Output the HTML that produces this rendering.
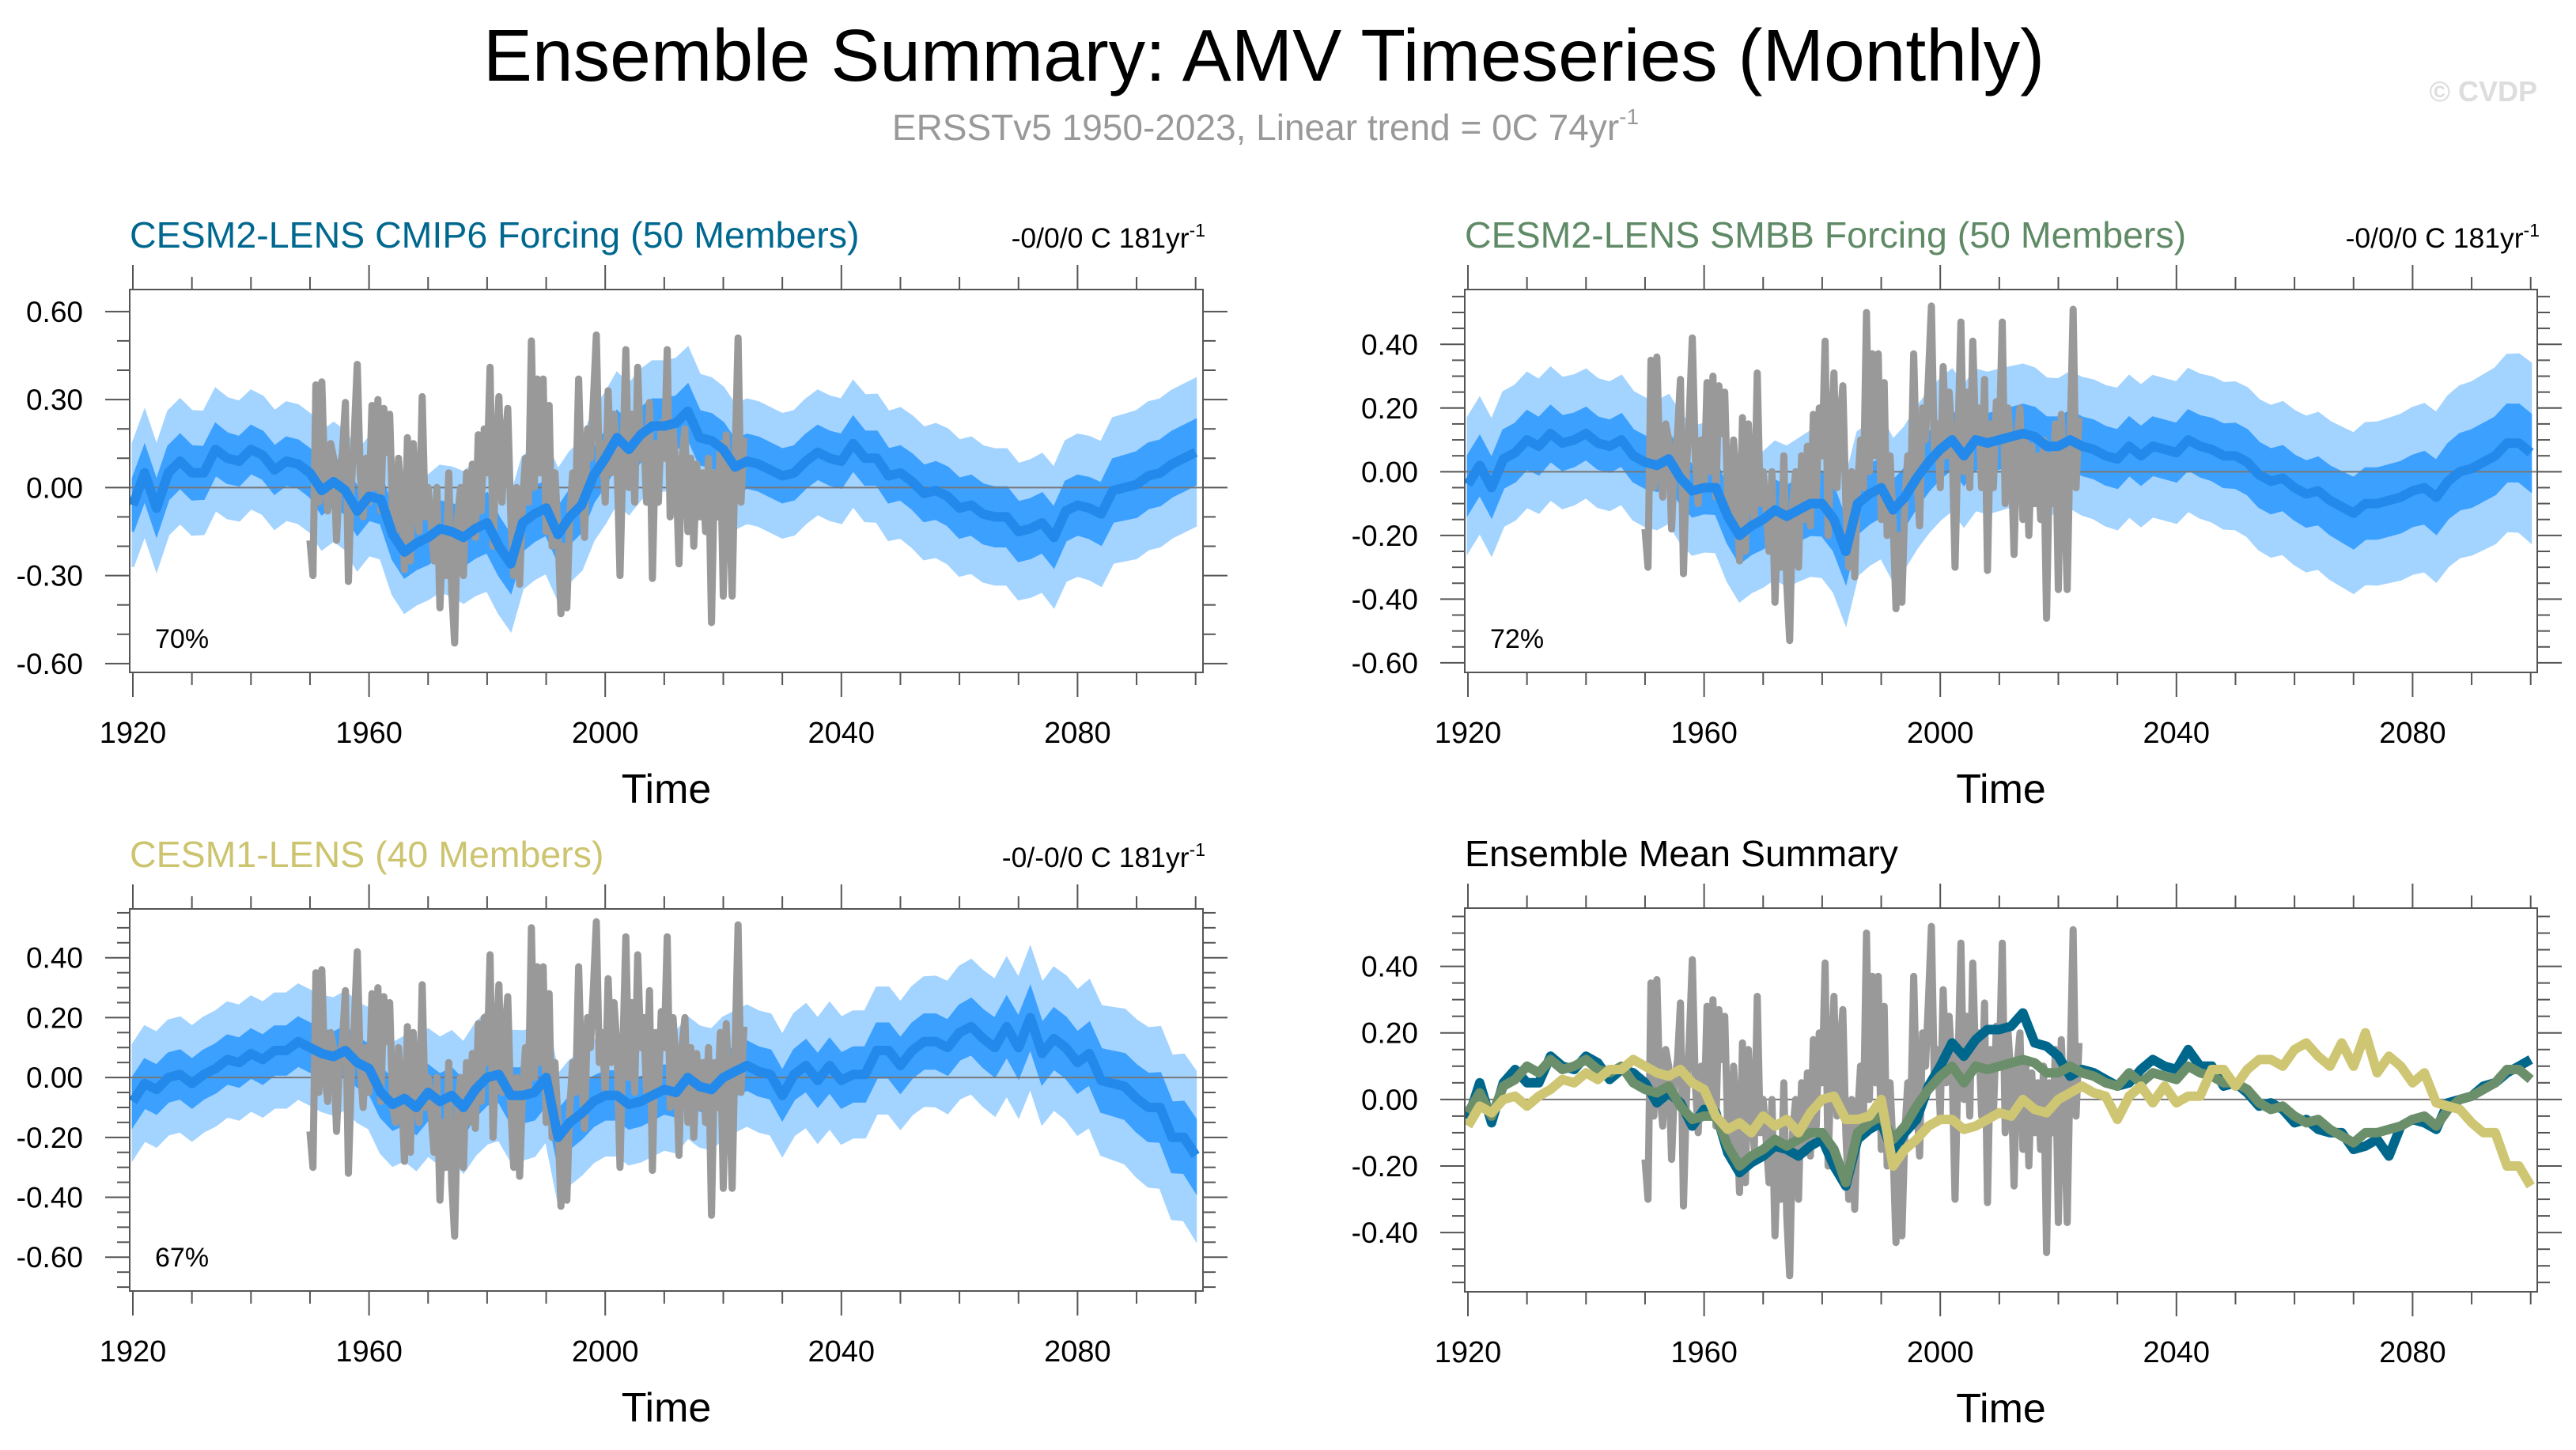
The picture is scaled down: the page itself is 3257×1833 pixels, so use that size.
<!DOCTYPE html>
<html><head><meta charset="utf-8"><title>AMV Timeseries</title>
<style>html,body{margin:0;padding:0;background:#fff;}svg{display:block;font-family:"Liberation Sans",Arial,sans-serif;}</style>
</head><body>
<svg id="fig" xmlns="http://www.w3.org/2000/svg" width="3257" height="1833" viewBox="0 0 3257 1833">
<rect width="3257" height="1833" fill="#fff"/>
<text x="1598" y="102" font-size="93" text-anchor="middle" fill="#000">Ensemble Summary: AMV Timeseries (Monthly)</text>
<text x="1600" y="177" font-size="46" text-anchor="middle" fill="#999">ERSSTv5 1950-2023, Linear trend = 0C 74yr<tspan font-size="28" dy="-20">-1</tspan></text>
<text x="3208" y="128" font-size="36" font-weight="bold" text-anchor="end" fill="#ddd">© CVDP</text>
</svg>
<script>
// ---- data (2-year steps 1920..2100) ----
const meanYears0 = 1920;
const meanStep = 2;
const cmip6Mean = [-0.06,0.05,-0.07,0.05,0.09,0.05,0.05,0.13,0.10,0.09,
0.13,0.11,0.06,0.09,0.08,0.05,-0.01,0.02,-0.01,-0.08,
-0.03,-0.04,-0.16,-0.22,-0.19,-0.17,-0.14,-0.15,-0.17,-0.14,
-0.12,-0.20,-0.26,-0.12,-0.09,-0.07,-0.16,-0.10,-0.06,0.04,
0.10,0.17,0.13,0.18,0.21,0.21,0.22,0.26,0.17,0.16,
0.13,
0.07,0.09,0.08,0.06,0.04,0.05,0.09,0.12,0.10,
0.09,0.15,0.10,0.10,0.04,0.05,0.02,-0.02,-0.01,-0.03,
-0.07,-0.06,-0.09,-0.10,-0.10,-0.15,-0.14,-0.12,-0.17,-0.08,
-0.06,-0.07,-0.09,-0.01,0.00,0.01,0.04,0.05,0.08,0.10,
0.12];
const smbbMean = [-0.04,0.02,-0.05,0.04,0.06,0.10,0.08,0.12,0.09,0.10,
0.12,0.09,0.08,0.10,0.05,0.03,0.02,0.04,-0.02,-0.06,
-0.05,-0.05,-0.14,-0.20,-0.17,-0.15,-0.12,-0.14,-0.12,-0.10,
-0.10,-0.15,-0.25,-0.10,-0.07,-0.05,-0.12,-0.08,-0.02,0.03,
0.07,0.10,0.05,0.10,0.09,0.10,0.11,0.12,0.11,0.08,
0.08,
0.10,0.08,0.07,0.05,0.04,0.08,0.05,0.08,0.07,
0.06,0.10,0.08,0.07,0.05,0.05,0.03,-0.01,-0.03,-0.02,
-0.05,-0.07,-0.06,-0.09,-0.11,-0.13,-0.10,-0.10,-0.09,-0.08,
-0.06,-0.05,-0.08,-0.03,0.00,0.01,0.03,0.05,0.09,0.09,
0.06];
const cesm1Mean = [-0.08,-0.02,-0.04,0.00,0.01,-0.02,0.01,0.03,0.06,0.05,
0.08,0.06,0.09,0.09,0.12,0.10,0.08,0.07,0.09,0.05,
0.03,-0.05,-0.09,-0.07,-0.10,-0.05,-0.08,-0.06,-0.10,-0.04,
0.00,0.01,-0.06,-0.06,-0.05,0.00,-0.20,-0.15,-0.12,-0.08,
-0.06,-0.06,-0.09,-0.08,-0.06,-0.04,-0.05,0.00,-0.03,-0.04,
0.00,
0.02,0.04,0.02,0.01,-0.06,0.01,0.04,-0.01,0.04,
-0.01,0.01,0.01,0.09,0.09,0.04,0.09,0.12,0.12,0.10,
0.15,0.17,0.13,0.10,0.17,0.10,0.20,0.08,0.13,0.10,
0.05,0.08,-0.01,-0.02,-0.03,-0.07,-0.10,-0.10,-0.20,-0.20,
-0.26];
// band half-widths per decade 1920..2100
const bandYears0 = 1920;
const bandStep = 10;
const cmip6Outer = [0.21,0.21,0.20,0.20,0.20,0.21,0.23,0.22,0.22,0.22,0.21,0.21,0.21,0.22,0.23,0.23,0.24,0.25,0.25];
const cmip6Inner = [0.09,0.09,0.08,0.08,0.08,0.09,0.10,0.09,0.09,0.09,0.09,0.09,0.09,0.09,0.10,0.10,0.10,0.11,0.11];
const smbbOuter = [0.21,0.21,0.20,0.20,0.20,0.21,0.23,0.22,0.22,0.22,0.21,0.22,0.22,0.23,0.24,0.25,0.26,0.27,0.28];
const smbbInner = [0.09,0.09,0.08,0.08,0.08,0.09,0.10,0.09,0.09,0.09,0.09,0.09,0.09,0.10,0.10,0.11,0.11,0.12,0.12];
const cesm1Outer = [0.19,0.19,0.19,0.19,0.20,0.21,0.22,0.21,0.20,0.20,0.20,0.20,0.21,0.21,0.22,0.23,0.24,0.26,0.28];
const cesm1Inner = [0.08,0.08,0.08,0.08,0.08,0.09,0.09,0.09,0.08,0.08,0.08,0.08,0.09,0.09,0.09,0.10,0.10,0.11,0.12];
// ERSSTv5 observations, half-year steps from 1950.0
const obsYear0 = 1950;
const obsStep = 0.5;
const obsValues = [-0.18,-0.30,0.35,-0.05,0.36,0.02,-0.08,0.15,0.10,-0.18,
0.05,0.12,0.29,-0.32,0.00,0.18,0.42,0.05,-0.10,0.10,
-0.05,0.28,0.00,0.30,-0.08,0.27,0.12,0.25,-0.10,-0.15,
0.10,-0.05,-0.28,0.17,-0.25,0.15,-0.05,-0.15,0.31,-0.10,
0.00,-0.12,-0.25,0.00,-0.41,-0.15,-0.30,0.05,-0.35,-0.53,
-0.10,0.00,-0.30,0.05,-0.15,0.08,-0.17,0.18,-0.08,0.20,
0.05,0.41,-0.20,0.10,0.31,-0.05,0.15,0.27,-0.10,-0.30,
0.00,-0.33,-0.05,0.10,-0.05,0.50,0.00,0.37,0.05,0.37,
-0.15,0.28,-0.20,0.05,-0.15,-0.43,-0.20,-0.41,-0.10,0.05,
-0.05,0.37,0.00,-0.17,0.20,0.10,0.30,0.52,0.05,0.15,
-0.05,0.33,0.05,0.25,0.10,-0.30,0.10,0.47,0.00,0.25,
-0.05,0.41,0.10,0.20,-0.05,0.29,-0.31,0.15,-0.05,0.22,
0.10,0.47,-0.10,0.20,0.05,-0.26,0.10,0.20,-0.15,0.10,
-0.20,0.08,-0.10,0.05,-0.15,0.10,-0.46,0.05,-0.10,0.15,
-0.37,0.18,-0.05,-0.37,0.10,0.51,-0.05,0.17];
const xTickYears = [1920,1960,2000,2040,2080];
const pctLabels = ["70%","72%","67%"];

const NS = "http://www.w3.org/2000/svg";
const svg = document.getElementById("fig");
function mk(tag, attrs, parent){
  const e = document.createElementNS(NS, tag);
  for (const k in attrs) e.setAttribute(k, attrs[k]);
  (parent || svg).appendChild(e);
  return e;
}
const panels = [
 {x0:164,x1:1521,y0:366,y1:850,ymin:-0.63,ymax:0.675,major:0.3,minor:0.1,labMin:-0.6,labMax:0.6,
  title:"CESM2-LENS CMIP6 Forcing (50 Members)",tcol:"#00688f",trend:"-0/0/0 C 181yr",name:"cmip6"},
 {x0:1852,x1:3208,y0:366,y1:850,ymin:-0.63,ymax:0.572,major:0.2,minor:0.05,labMin:-0.6,labMax:0.4,
  title:"CESM2-LENS SMBB Forcing (50 Members)",tcol:"#5f8a66",trend:"-0/0/0 C 181yr",name:"smbb"},
 {x0:164,x1:1521,y0:1149,y1:1632,ymin:-0.713,ymax:0.563,major:0.2,minor:0.05,labMin:-0.6,labMax:0.4,
  title:"CESM1-LENS (40 Members)",tcol:"#cdc470",trend:"-0/-0/0 C 181yr",name:"cesm1"},
 {x0:1852,x1:3208,y0:1148,y1:1633,ymin:-0.578,ymax:0.575,major:0.2,minor:0.05,labMin:-0.4,labMax:0.4,
  title:"Ensemble Mean Summary",tcol:"#000",trend:null,name:"summary"}
];
const ensData = [
 {mean:cmip6Mean,outer:cmip6Outer,inner:cmip6Inner},
 {mean:smbbMean,outer:smbbOuter,inner:smbbInner},
 {mean:cesm1Mean,outer:cesm1Outer,inner:cesm1Inner}
];
const PXYR = 7.465;
function xs(p, yr){ return p.x0 + 4 + (yr-1920)*PXYR; }
function ys(p, v){ return p.y0 + (p.ymax - v)/(p.ymax - p.ymin)*(p.y1 - p.y0); }
function bandAt(arr, yr){
  const f=(yr-bandYears0)/bandStep, i=Math.min(Math.floor(f),arr.length-2), t=f-i;
  return arr[i]*(1-t)+arr[i+1]*t;
}
function linePath(p, vals, y0, st){
  return vals.map((v,i)=>(i?"L":"M")+xs(p,y0+i*st).toFixed(1)+","+ys(p,v).toFixed(1)).join(" ");
}
function bandPath(p, mean, w){
  let up=[],lo=[];
  mean.forEach((v,i)=>{const yr=meanYears0+i*meanStep;const h=bandAt(w,yr);
    up.push(xs(p,yr).toFixed(1)+","+ys(p,v+h).toFixed(1));
    lo.push(xs(p,yr).toFixed(1)+","+ys(p,v-h).toFixed(1));});
  return "M"+up.join(" L")+" L"+lo.reverse().join(" L")+" Z";
}

panels.forEach((p,pi)=>{
  const g = mk("g",{});
  
  
  const clipId="clip"+pi;
  const cp = mk("clipPath",{id:clipId},g);
  mk("rect",{x:p.x0,y:p.y0,width:p.x1-p.x0,height:p.y1-p.y0},cp);
  const plot = mk("g",{"clip-path":"url(#"+clipId+")"},g);
  
  
  if (pi<3){
    const d=ensData[pi];
    const ob = mk("path",{d:bandPath(p,d.mean,d.outer),fill:"#a3d3ff",stroke:"#a3d3ff","stroke-width":3},plot);
    
    
    const ib = mk("path",{d:bandPath(p,d.mean,d.inner),fill:"#3ca0ff",stroke:"#3ca0ff","stroke-width":3},plot);
    
    
  }
  const z = mk("line",{x1:p.x0,x2:p.x1,y1:ys(p,0),y2:ys(p,0),stroke:"#777","stroke-width":2},plot);
  
  
  const obs = mk("path",{d:linePath(p,obsValues,obsYear0,obsStep),fill:"none",stroke:"#999","stroke-width":9,"stroke-linejoin":"round"},plot);
  
  
  if (pi<3){
    const m = mk("path",{d:linePath(p,ensData[pi].mean,meanYears0,meanStep),fill:"none",stroke:"#2389ea","stroke-width":12,"stroke-linejoin":"round"},plot);
    
    
  } else {
    const cols=["#00678c","#6a8f6a","#cfc674"], nm=["cmip6-mean-line","smbb-mean-line","cesm1-mean-line"];
    ensData.forEach((d,k)=>{
      const l = mk("path",{d:linePath(p,d.mean,meanYears0,meanStep),fill:"none",stroke:cols[k],"stroke-width":12,"stroke-linejoin":"round"},plot);
      
      
    });
  }
  // frame
  const fr = mk("rect",{x:p.x0,y:p.y0,width:p.x1-p.x0,height:p.y1-p.y0,fill:"none",stroke:"#555","stroke-width":2},g);
  
  
  // x ticks
  for (let yr=1920; yr<=2100; yr+=10){
    const x=xs(p,yr), maj=(yr-1920)%40===0, L=maj?31:16;
    mk("line",{x1:x,x2:x,y1:p.y0,y2:p.y0-L,stroke:"#555","stroke-width":2},g);
    mk("line",{x1:x,x2:x,y1:p.y1,y2:p.y1+L,stroke:"#555","stroke-width":2},g);
  }
  xTickYears.forEach(yr=>{
    const t = mk("text",{x:xs(p,yr),y:p.y1+89,"font-size":38,"text-anchor":"middle",fill:"#000"},g);
    
    
    t.textContent=yr;
  });
  const xt = mk("text",{x:(p.x0+p.x1)/2,y:p.y1+165,"font-size":52,"text-anchor":"middle",fill:"#000"},g);
  
  
  xt.textContent="Time";
  // y ticks
  const nmin=Math.ceil(p.ymin/p.minor-1e-6), nmax=Math.floor(p.ymax/p.minor+1e-6);
  for (let n=nmin;n<=nmax;n++){
    const v=n*p.minor, y=ys(p,v), maj=Math.abs(v/p.major-Math.round(v/p.major))<1e-6, L=maj?31:16;
    mk("line",{x1:p.x0,x2:p.x0-L,y1:y,y2:y,stroke:"#555","stroke-width":2},g);
    mk("line",{x1:p.x1,x2:p.x1+L,y1:y,y2:y,stroke:"#555","stroke-width":2},g);
    if (maj && v>=p.labMin-1e-6 && v<=p.labMax+1e-6){
      const t = mk("text",{x:p.x0-59,y:y+13,"font-size":37,"text-anchor":"end",fill:"#000"},g);
      
      
      t.textContent=v.toFixed(2);
    }
  }
  const tt = mk("text",{x:p.x0,y:p.y0-53,"font-size":46.5,fill:p.tcol},g);
  
  
  tt.textContent=p.title;
  if (p.trend){
    const tr = mk("text",{x:p.x1+3,y:p.y0-53,"font-size":35.5,"text-anchor":"end",fill:"#000"},g);
    
    
    tr.appendChild(document.createTextNode(p.trend));
    const sp = mk("tspan",{"font-size":23,dy:-14},tr);
    sp.textContent="-1";
  }
  if (pi<3){
    const pc = mk("text",{x:p.x0+32,y:p.y1-31,"font-size":34,fill:"#000"},g);
    
    
    pc.textContent=pctLabels[pi];
  }
});
</script>
</body></html>
